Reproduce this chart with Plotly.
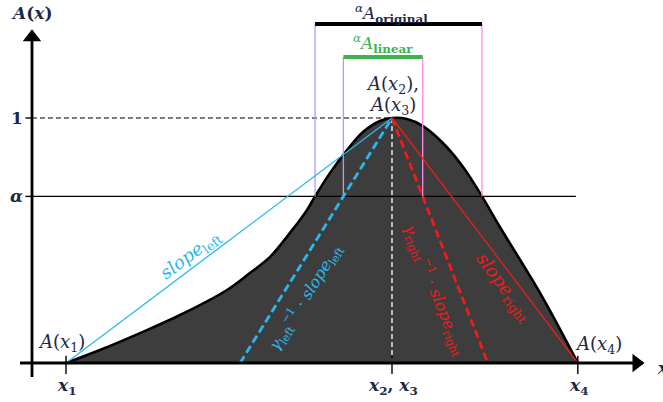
import plotly.graph_objects as go

# ---- fuzzy number definition (x in abstract units, membership in [0, 1]) ----
X1, X23, X4 = 0.0, 10.0, 15.7
ALPHA = 0.68

# membership function A(x), sampled along its outline
curve_x = [0.0, 1.04, 2.27, 3.50, 4.94, 5.64, 6.26, 6.87, 7.39, 7.64, 8.10, 8.62,
           9.11, 9.63, 10.0, 10.46, 10.95, 11.56, 12.18, 12.76, 13.31, 14.54, 15.7]
curve_y = [0.0, 0.053, 0.122, 0.196, 0.298, 0.367, 0.433, 0.531, 0.624, 0.680, 0.776, 0.869,
           0.943, 0.988, 1.0, 0.996, 0.967, 0.898, 0.800, 0.680, 0.555, 0.286, 0.0]

# alpha-cut of the original function
CUT_ORIG = (7.64, 12.76)
# feet of the steepened (gamma^-1 * slope) lines on the x axis
FOOT_LEFT, FOOT_RIGHT = 5.34, 12.94
# alpha-cut of the linear approximation, taken on the steepened lines
CUT_LIN = (FOOT_LEFT + (X23 - FOOT_LEFT) * ALPHA, FOOT_RIGHT - (FOOT_RIGHT - X23) * ALPHA)

# heights where the cut bars are drawn
BAR_ORIG_Y, BAR_LIN_Y = 1.384, 1.249

# axis geometry
AXIS_X = -1.043
AXIS_X_START, AXIS_X_END = -1.41, 17.70
AXIS_Y_START, AXIS_Y_END = -0.057, 1.35
ALPHA_LINE_END = 15.64

W, H = 663, 402
NAVY = "#1d2843"
CYAN = "#2bb8ee"
RED = "#ee1c1c"
GREEN = "#3cb44b"
LAVENDER = "#b79af0"
PINK = "#ff8ae8"
FONT = "DejaVu Serif"

fig = go.Figure()


def seg(xs, ys, color, width, dash="solid"):
    fig.add_trace(go.Scatter(x=xs, y=ys, mode="lines", hoverinfo="skip",
                             line=dict(color=color, width=width, dash=dash)))


# filled membership function
fig.add_trace(go.Scatter(x=curve_x, y=curve_y, mode="lines", fill="tozeroy",
                         fillcolor="#3d3d3d", hoverinfo="skip",
                         line=dict(color="black", width=2.6, shape="spline", smoothing=1.0)))

# alpha level and the peak level
seg([AXIS_X, ALPHA_LINE_END], [ALPHA, ALPHA], "black", 1.1)
seg([AXIS_X, X23], [1, 1], "black", 1.2, "5px,3px")
seg([X23, X23], [0, 1], "white", 1.3, "5px,3px")

# cut bars with their vertical guides
seg([CUT_ORIG[0], CUT_ORIG[0]], [ALPHA, BAR_ORIG_Y], LAVENDER, 1.3)
seg([CUT_ORIG[1], CUT_ORIG[1]], [ALPHA, BAR_ORIG_Y], PINK, 1.3)
seg([CUT_LIN[0], CUT_LIN[0]], [ALPHA, BAR_LIN_Y], LAVENDER, 1.3)
seg([CUT_LIN[1], CUT_LIN[1]], [ALPHA, BAR_LIN_Y], PINK, 1.3)
seg([CUT_ORIG[0], CUT_ORIG[1]], [BAR_ORIG_Y, BAR_ORIG_Y], "black", 4)
seg([CUT_LIN[0], CUT_LIN[1]], [BAR_LIN_Y, BAR_LIN_Y], GREEN, 4)

# slopes
seg([X1, X23], [0, 1], CYAN, 1.3)
seg([FOOT_LEFT, X23], [0, 1], CYAN, 2.8, "8px,4px")
seg([X23, X4], [1, 0], RED, 1.3)
seg([X23, FOOT_RIGHT], [1, 0], RED, 2.8, "8px,4px")

# axes with arrow heads
seg([AXIS_X_START, AXIS_X_END], [0, 0], "black", 2.8)
seg([AXIS_X, AXIS_X], [AXIS_Y_START, AXIS_Y_END], "black", 2.8)
fig.add_trace(go.Scatter(x=[AXIS_X], y=[AXIS_Y_END - 0.02], mode="markers", hoverinfo="skip",
                         marker=dict(symbol="triangle-up", size=16, color="black")))
fig.add_trace(go.Scatter(x=[AXIS_X_END - 0.2], y=[0], mode="markers", hoverinfo="skip",
                         marker=dict(symbol="triangle-right", size=16, color="black")))

# tick marks
for xt in (X1, X23, X4):
    seg([xt, xt], [-0.045, 0.03], "black", 1.4)
for yt in (1, ALPHA):
    seg([AXIS_X - 0.2, AXIS_X], [yt, yt], "black", 1.4)


def label(px, py, text, color=NAVY, size=18, angle=0, xanchor="center"):
    fig.add_annotation(x=px / W, y=1 - py / H, xref="paper", yref="paper", text=text,
                       showarrow=False, textangle=angle, xanchor=xanchor, yanchor="middle",
                       font=dict(family=FONT, size=size, color=color))


label(31, 13, "<b><i>A</i>(<i>x</i>)</b>", size=17)
label(25, 118, "<b>1</b>", xanchor="right", size=17)
label(25, 196, "<b><i>α</i></b>", xanchor="right", size=17)
label(66, 386, "<b><i>x</i><sub>1</sub></b>", size=17)
label(393, 386, "<b><i>x</i><sub>2</sub>, <i>x</i><sub>3</sub></b>", size=17)
label(578, 386, "<b><i>x</i><sub>4</sub></b>", size=17)
label(655, 368, "<b><i>x</i></b>", xanchor="left", size=17)
label(61, 343, "<i>A</i>(<i>x</i><sub>1</sub>)")
label(598, 345, "<i>A</i>(<i>x</i><sub>4</sub>)")
label(392, 85, "<i>A</i>(<i>x</i><sub>2</sub>),")
label(392, 106, "<i>A</i>(<i>x</i><sub>3</sub>)")
label(391, 13, "<sup><i>α</i></sup><i>A</i><sub><b>original</b></sub>", size=17)
label(383, 43, "<sup><i>α</i></sup><i>A</i><sub><b>linear</b></sub>", color=GREEN, size=17)
label(191, 255, "<i>slope</i><sub>left</sub>", color=CYAN, size=18, angle=-37)
label(305, 297, "<i>γ</i><sub>left</sub><sup>−1</sup> · <i>slope</i><sub>left</sub>",
      color=CYAN, size=16, angle=-58)
label(435, 290, "<i>γ</i><sub>right</sub><sup>−1</sup> · <i>slope</i><sub>right</sub>",
      color=RED, size=16, angle=68)
label(503, 287, "<i>slope</i><sub>right</sub>", color=RED, size=18, angle=53)

fig.update_layout(
    width=W, height=H, margin=dict(l=0, r=0, t=0, b=0),
    paper_bgcolor="white", plot_bgcolor="white", showlegend=False,
    xaxis=dict(range=[-66 / 32.6, (W - 66) / 32.6], visible=False, fixedrange=True),
    yaxis=dict(range=[(363 - H) / 245, 363 / 245], visible=False, fixedrange=True),
)

fig.write_html("out.html")
